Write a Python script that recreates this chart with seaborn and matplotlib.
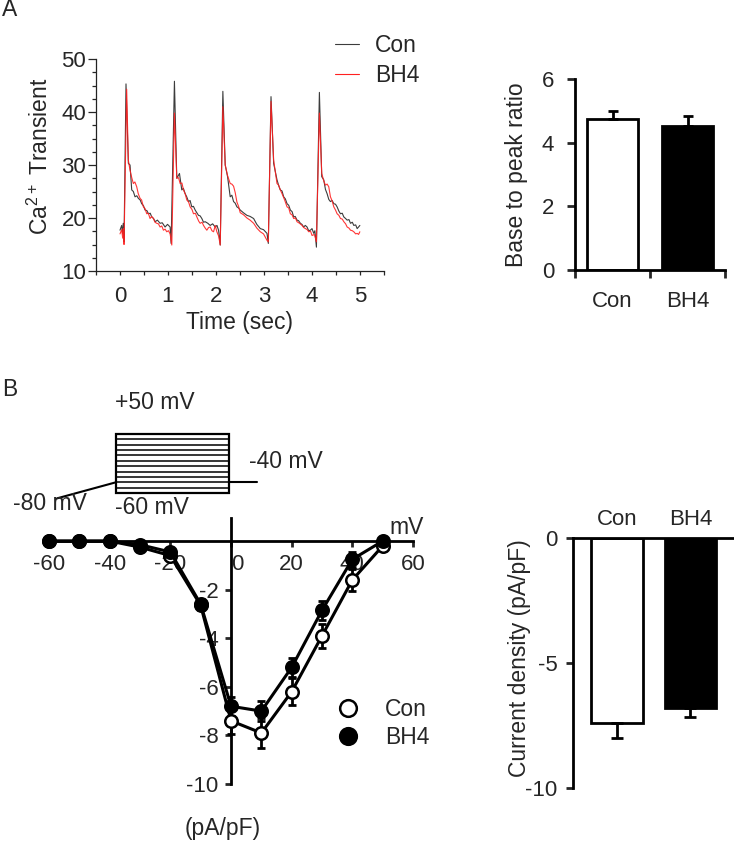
"""Ca2+ transients and L-type current I-V, Con vs BH4."""
import matplotlib

matplotlib.use("Agg")

import matplotlib.pyplot as plt
import seaborn as sns
from matplotlib.lines import Line2D
from matplotlib.patches import Rectangle
from matplotlib.ticker import MultipleLocator
from matplotlib.transforms import ScaledTranslation

# ---- panel A, left: Ca2+ transient traces (time in sec) ----
con_time = [0.0, 0.035, 0.056, 0.07, 0.084, 0.125, 0.174, 0.209, 0.244, 0.278, 0.313, 0.35, 0.383,
            0.42, 0.452, 0.49, 0.522, 0.56, 0.592, 0.63, 0.661, 0.70, 0.731, 0.78, 0.835, 0.88,
            0.939, 0.99, 1.044, 1.065, 1.134, 1.183, 1.239, 1.287, 1.32, 1.357, 1.39, 1.427, 1.46,
            1.496, 1.53, 1.566, 1.60, 1.635, 1.67, 1.705, 1.74, 1.775, 1.83, 1.879, 1.93, 1.983,
            2.02, 2.053, 2.088, 2.143, 2.192, 2.241, 2.296, 2.33, 2.366, 2.40, 2.436, 2.47, 2.505,
            2.57, 2.644, 2.71, 2.784, 2.85, 2.923, 2.99, 3.062, 3.09, 3.146, 3.201, 3.271, 3.31,
            3.34, 3.375, 3.41, 3.445, 3.48, 3.515, 3.549, 3.585, 3.619, 3.65, 3.688, 3.72, 3.758,
            3.79, 3.827, 3.86, 3.897, 3.93, 3.967, 4.0, 4.036, 4.06, 4.092, 4.154, 4.203, 4.245,
            4.28, 4.314, 4.35, 4.384, 4.42, 4.454, 4.49, 4.523, 4.56, 4.593, 4.63, 4.663, 4.70,
            4.732, 4.77, 4.802, 4.84, 4.871, 4.91, 4.941, 4.97, 4.997]
con_trace = [17.7, 18.6, 17.0, 19.0, 15.5, 45.3, 30.3, 30.0, 25.3, 25.0, 24.0, 24.2, 23.7,
             23.4, 22.7, 22.3, 21.5, 21.4, 20.8, 20.9, 20.2, 19.9, 19.3, 19.6, 19.0, 19.1,
             18.3, 18.8, 18.3, 15.2, 45.8, 27.5, 28.4, 25.3, 25.6, 24.6, 24.0, 23.1, 23.3,
             22.1, 22.2, 21.5, 21.0, 20.5, 20.4, 19.9, 19.2, 19.3, 19.0, 18.6, 18.9, 18.3,
             18.6, 17.7, 14.9, 43.9, 30.0, 27.8, 24.0, 24.3, 23.1, 22.8, 22.1, 21.9, 21.5,
             21.0, 20.5, 20.3, 19.9, 18.8, 18.0, 17.8, 17.1, 15.2, 42.9, 30.3, 27.2, 26.0,
             25.3, 25.1, 24.0, 23.6, 22.7, 22.4, 21.5, 21.2, 20.2, 20.3, 19.6, 19.5, 19.0,
             18.8, 18.3, 18.6, 18.3, 17.6, 17.7, 18.0, 17.1, 17.6, 14.5, 43.7, 27.8, 27.2,
             25.4, 24.6, 23.5, 23.1, 23.3, 22.7, 22.6, 22.1, 21.3, 20.8, 20.9, 20.2, 19.9,
             19.6, 19.7, 19.0, 19.2, 18.6, 18.7, 18.0, 18.3, 18.6]
bh4_time = [0.0, 0.035, 0.056, 0.07, 0.084, 0.139, 0.174, 0.209, 0.245, 0.278, 0.31, 0.348, 0.38,
            0.418, 0.45, 0.487, 0.52, 0.557, 0.59, 0.626, 0.66, 0.696, 0.73, 0.765, 0.80, 0.835,
            0.87, 0.905, 0.94, 0.974, 1.01, 1.044, 1.079, 1.134, 1.183, 1.22, 1.253, 1.29, 1.322,
            1.36, 1.392, 1.43, 1.461, 1.50, 1.531, 1.57, 1.601, 1.64, 1.670, 1.71, 1.740, 1.775,
            1.809, 1.845, 1.879, 1.915, 1.949, 1.985, 2.018, 2.055, 2.088, 2.143, 2.192, 2.241,
            2.296, 2.33, 2.366, 2.40, 2.436, 2.47, 2.505, 2.575, 2.644, 2.71, 2.784, 2.85, 2.923,
            2.99, 3.062, 3.090, 3.146, 3.201, 3.271, 3.305, 3.34, 3.375, 3.43, 3.480, 3.515,
            3.549, 3.585, 3.619, 3.655, 3.688, 3.74, 3.793, 3.827, 3.862, 3.90, 3.932, 3.97,
            4.001, 4.05, 4.092, 4.154, 4.203, 4.245, 4.280, 4.315, 4.349, 4.384, 4.42, 4.454,
            4.49, 4.523, 4.56, 4.593, 4.63, 4.663, 4.70, 4.732, 4.77, 4.802, 4.84, 4.871, 4.91,
            4.941, 4.97, 4.997]
bh4_trace = [17.0, 17.8, 16.2, 18.0, 15.0, 44.3, 30.9, 29.0, 27.6, 26.5, 26.8, 25.9, 24.6,
             23.7, 23.4, 22.1, 21.8, 20.8, 20.9, 19.9, 20.3, 19.9, 19.2, 19.0, 18.9, 18.3,
             18.5, 17.7, 17.9, 17.4, 17.6, 17.0, 14.9, 39.8, 27.5, 27.6, 26.5, 26.6, 25.3,
             24.5, 23.4, 23.0, 22.1, 21.6, 20.8, 20.9, 20.2, 19.4, 19.0, 19.2, 18.6, 18.1,
             17.7, 18.2, 18.3, 17.6, 17.4, 18.6, 17.4, 16.6, 14.9, 41.0, 30.0, 28.0, 26.5,
             26.4, 26.0, 24.8, 23.0, 22.2, 21.0, 20.6, 20.0, 19.6, 19.0, 18.1, 17.4, 17.0,
             15.8, 15.5, 42.0, 30.9, 26.5, 26.2, 25.3, 24.6, 23.4, 22.1, 21.9, 20.8, 20.6,
             19.9, 20.0, 19.3, 19.0, 18.6, 18.2, 18.0, 17.8, 17.4, 17.5, 16.7, 16.9, 15.5,
             39.8, 28.4, 27.0, 26.2, 26.4, 25.9, 24.0, 23.2, 22.1, 21.5, 20.8, 20.5, 19.9,
             19.8, 19.3, 18.9, 18.3, 18.1, 17.7, 17.6, 17.4, 17.0, 17.1, 16.9, 17.4]

# ---- panel A, right: base to peak ratio ----
groups = ["Con", "BH4"]
ratio_mean = [4.74, 4.52]
ratio_sem = [0.26, 0.32]

# ---- panel B, left: I-V relation ----
voltage = [-60, -50, -40, -30, -20, -10, 0, 10, 20, 30, 40, 50]
con_iv = [0.0, 0.0, 0.0, -0.25, -0.6, -2.65, -7.4, -7.9, -6.2, -3.9, -1.6, -0.2]
con_iv_sem = [0.0, 0.0, 0.0, 0.05, 0.1, 0.2, 0.55, 0.6, 0.55, 0.5, 0.45, 0.1]
bh4_iv = [0.0, 0.0, 0.0, -0.15, -0.45, -2.6, -6.8, -7.0, -5.2, -2.85, -0.75, 0.0]
bh4_iv_sem = [0.0, 0.0, 0.0, 0.05, 0.1, 0.2, 0.4, 0.4, 0.4, 0.4, 0.3, 0.05]

# voltage protocol sketch (mV levels, schematic time)
step_levels = [-60, -50, -40, -30, -20, -10, 0, 10, 20, 30, 40, 50]
holding_mv = -40
ramp_start_mv = -70
protocol_t = [0, 59, 172, 200]

# ---- panel B, right: current density ----
density_mean = [-7.4, -6.8]
density_sem = [0.6, 0.35]

sns.set_theme(style="ticks")
plt.rcParams["font.family"] = ["Liberation Sans", "DejaVu Sans"]
plt.rcParams["mathtext.fontset"] = "custom"
plt.rcParams["mathtext.rm"] = "Liberation Sans"
plt.rcParams["mathtext.it"] = "Liberation Sans:italic"
plt.rcParams["mathtext.bf"] = "Liberation Sans:bold"
plt.rcParams["axes.unicode_minus"] = False

W, H = 734, 842
FS = 16.5
TS = 16
fig = plt.figure(figsize=(W / 100, H / 100), dpi=100)


def px_axes(left, top, right, bottom):
    return fig.add_axes([left / W, 1 - bottom / H, (right - left) / W, (bottom - top) / H])


# ---------------- A left ----------------
ax1 = px_axes(96, 59, 384, 271)
sns.lineplot(x=con_time, y=con_trace, ax=ax1, color="#3c3c3c", lw=0.8,
             estimator=None, sort=False)
sns.lineplot(x=bh4_time, y=bh4_trace, ax=ax1, color="#ff2020", lw=0.8,
             estimator=None, sort=False, alpha=0.9)
ax1.set_xlim(-0.5, 5.5)
ax1.set_ylim(10, 50)
ax1.set_xticks(range(6))
ax1.set_yticks(range(10, 51, 10))
ax1.xaxis.set_minor_locator(MultipleLocator(0.5))
ax1.yaxis.set_minor_locator(MultipleLocator(2.5))
sns.despine(ax=ax1)
for sp in ax1.spines.values():
    sp.set_linewidth(0.9)
    sp.set_color("#222222")
ax1.tick_params(axis="y", which="major", length=6, width=0.9, pad=1, labelsize=TS)
ax1.tick_params(axis="y", which="minor", length=3, width=0.9)
ax1.tick_params(axis="x", which="both", length=3, width=0.9, pad=8, labelsize=TS)
ax1.set_xlabel("Time (sec)", fontsize=FS)
ax1.set_ylabel(r"Ca$^{2+}$ Transient", fontsize=FS)
ax1.xaxis.set_label_coords(0.5, -0.19)
ax1.yaxis.set_label_coords(-0.15, 0.54)
leg_handles = [Line2D([], [], color="#3c3c3c", lw=0.8), Line2D([], [], color="#ff2020", lw=0.8)]
ax1.legend(leg_handles, groups, loc="upper left", bbox_to_anchor=(335 / W, 1 - 34 / H),
           bbox_transform=fig.transFigure, frameon=False, fontsize=FS, handlelength=1.05,
           handletextpad=0.7, labelspacing=0.32, borderpad=0, borderaxespad=0)

# ---------------- A right ----------------
ax2 = px_axes(575, 79, 725, 270)
sns.barplot(x=groups, y=ratio_mean, hue=groups, palette=["white", "black"], legend=False,
            edgecolor="black", linewidth=2, width=0.67, ax=ax2, errorbar=None)
ax2.errorbar(x=[0, 1], y=ratio_mean, yerr=[[0, 0], ratio_sem], fmt="none", ecolor="black",
             elinewidth=2, capsize=3.6, capthick=2, zorder=1)
ax2.set_xlim(-0.5, 1.5)
ax2.set_ylim(0, 6)
ax2.set_yticks([0, 2, 4, 6])
ax2.set_xticks([0, 1])
ax2.set_xticks([-0.5, 0.5, 1.5], minor=True)
sns.despine(ax=ax2)
for sp in ax2.spines.values():
    sp.set_linewidth(2)
    sp.set_color("black")
ax2.tick_params(axis="y", length=6, width=2, pad=9, labelsize=TS)
ax2.tick_params(axis="x", which="major", length=0, pad=15, labelsize=TS)
ax2.tick_params(axis="x", which="minor", length=6, width=2)
ax2.set_xlabel("")
ax2.set_ylabel("Base to peak ratio", fontsize=FS)
ax2.yaxis.set_label_coords(-0.31, 0.5)

# ---------------- B left: I-V ----------------
ax3 = px_axes(43, 518, 413, 784)
ax3.errorbar(voltage, con_iv, yerr=con_iv_sem, fmt="none", ecolor="black", elinewidth=2,
             capsize=3, capthick=2, zorder=2)
ax3.errorbar(voltage, bh4_iv, yerr=bh4_iv_sem, fmt="none", ecolor="black", elinewidth=2,
             capsize=3, capthick=2, zorder=2)
sns.lineplot(x=voltage, y=con_iv, ax=ax3, color="black", lw=2.2, marker="o", ms=9,
             mfc="white", mec="black", mew=1.8, zorder=3, clip_on=False)
sns.lineplot(x=voltage, y=bh4_iv, ax=ax3, color="black", lw=2.2, marker="o", ms=9,
             mfc="black", mec="black", mew=1.8, zorder=4, clip_on=False)
ax3.set_xlim(-62, 60)
ax3.set_ylim(-10, 0.95)
ax3.set_xticks([-60, -40, -20, 0, 20, 40, 60])
ax3.set_yticks([-10, -8, -6, -4, -2])
ax3.spines["left"].set_position(("data", 0))
ax3.spines["bottom"].set_position(("data", 0))
ax3.spines["top"].set_visible(False)
ax3.spines["right"].set_visible(False)
for sp in ("left", "bottom"):
    ax3.spines[sp].set_linewidth(2)
    ax3.spines[sp].set_color("black")
ax3.tick_params(axis="both", length=4, width=2, pad=5, labelsize=TS)
ax3.set_xlabel("")
ax3.set_ylabel("")
shift = ScaledTranslation(6 / 100, 0, fig.dpi_scale_trans)
for lbl in ax3.get_xticklabels():
    if lbl.get_text() == "0":
        lbl.set_transform(lbl.get_transform() + shift)
iv_handles = [
    Line2D([], [], ls="none", marker="o", ms=12, mfc="white", mec="black", mew=1.8),
    Line2D([], [], ls="none", marker="o", ms=12, mfc="black", mec="black", mew=1.8),
]
ax3.legend(iv_handles, groups, loc="upper left", bbox_to_anchor=(337 / W, 1 - 698 / H),
           bbox_transform=fig.transFigure, frameon=False, fontsize=FS, handlelength=1.0,
           handletextpad=1.1, labelspacing=0.2, borderpad=0, borderaxespad=0)
fig.text(407 / W, 1 - 527 / H, "mV", fontsize=FS, ha="center", va="center")
fig.text(223 / W, 1 - 829 / H, "(pA/pF)", fontsize=FS, ha="center", va="center")

# voltage protocol sketch
axp = px_axes(50, 420, 265, 510)
axp.set_xlim(-7, 208)
axp.set_ylim(-91.7, 76.1)
axp.axis("off")
axp.plot(protocol_t[:2], [ramp_start_mv, holding_mv], color="black", lw=1.5)
axp.plot(protocol_t[2:], [holding_mv, holding_mv], color="black", lw=1.5)
axp.hlines(step_levels, protocol_t[1], protocol_t[2], color="black", lw=1.1)
axp.add_patch(Rectangle((protocol_t[1], min(step_levels)), protocol_t[2] - protocol_t[1],
                        max(step_levels) - min(step_levels), fill=False, ec="black", lw=1.6))
fig.text(115 / W, 1 - 402 / H, "+50 mV", fontsize=FS, ha="left", va="center")
fig.text(249 / W, 1 - 461 / H, "-40 mV", fontsize=FS, ha="left", va="center")
fig.text(13 / W, 1 - 503 / H, "-80 mV", fontsize=FS, ha="left", va="center")
fig.text(115 / W, 1 - 508 / H, "-60 mV", fontsize=FS, ha="left", va="center")

# ---------------- B right ----------------
ax4 = px_axes(573, 538, 733, 788)
sns.barplot(x=groups, y=density_mean, hue=groups, palette=["white", "black"], legend=False,
            edgecolor="black", linewidth=2, width=0.7, ax=ax4, errorbar=None)
ax4.errorbar(x=[0, 1], y=density_mean, yerr=[density_sem, [0, 0]], fmt="none",
             ecolor="black", elinewidth=2, capsize=4, capthick=2, zorder=1)
ax4.set_xlim(-0.6, 1.58)
ax4.set_ylim(-10, 0)
ax4.set_yticks([-10, -5, 0])
ax4.xaxis.tick_top()
ax4.spines["bottom"].set_visible(False)
ax4.spines["right"].set_visible(False)
for sp in ("left", "top"):
    ax4.spines[sp].set_linewidth(2)
    ax4.spines[sp].set_color("black")
ax4.tick_params(axis="y", length=5, width=2, pad=6, labelsize=TS)
ax4.tick_params(axis="x", length=0, pad=6, labelsize=TS)
ax4.set_xlabel("")
ax4.set_ylabel("Current density (pA/pF)", fontsize=FS)
ax4.yaxis.set_label_coords(-0.26, 0.52)

fig.text(2 / W, 1 - 10 / H, "A", fontsize=FS, ha="left", va="center")
fig.text(2 / W, 1 - 390 / H, "B", fontsize=FS, ha="left", va="center")

fig.savefig("out.png", dpi=100)
